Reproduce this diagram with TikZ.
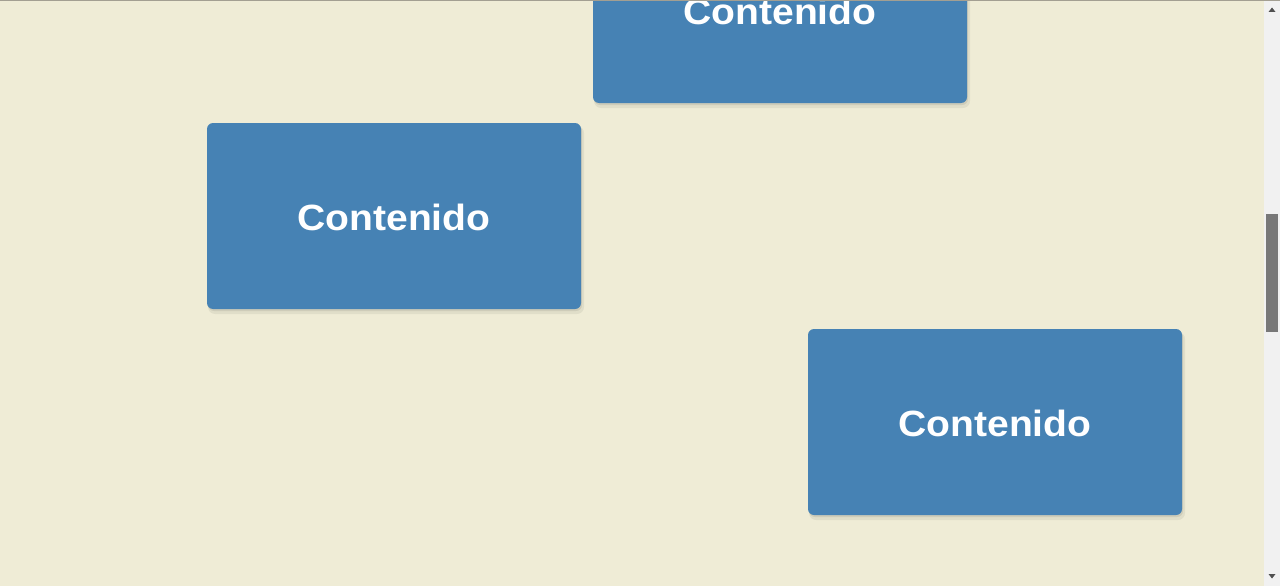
\documentclass[tikz,border=0pt]{standalone}
\usepackage{fontspec}
\setmainfont{Liberation Sans}
\definecolor{bg}{HTML}{EFECD6}
\definecolor{boxblue}{HTML}{4682B4}
\definecolor{track}{HTML}{F1F1F1}
\definecolor{thumb}{HTML}{787878}
\definecolor{topline}{HTML}{A39F92}
\definecolor{arrowc}{HTML}{505050}
\newcommand{\cardtext}[1]{\scalebox{1.07}[1]{\fontsize{36.5}{40}\selectfont\bfseries #1}}
\tikzset{
  card/.style={fill=boxblue, rounded corners=6pt, minimum width=374pt, minimum height=186pt, inner sep=0pt,
    text=white},
  shade1/.style={fill=black, opacity=0.06, rounded corners=7pt, minimum width=376pt, minimum height=188pt, inner sep=0pt},
  shade2/.style={fill=black, opacity=0.08, rounded corners=6pt, minimum width=374pt, minimum height=186pt, inner sep=0pt},
}
\begin{document}
\begin{tikzpicture}[x=1pt,y=-1pt]
\useasboundingbox (0,0) rectangle (1280,586);
\fill[bg] (0,0) rectangle (1264,586);
\begin{scope}
\clip (0,0) rectangle (1264,586);
% shadows
\foreach \cx/\cy in {780/10, 394/216, 995/422}{
  \node[shade1] at (\cx+2,\cy+4) {};
  \node[shade2] at (\cx+1,\cy+2) {};
}
\node[card] (c1) at (780,10) {};
\node[card] (c2) at (394,216) {};
\node[card] (c3) at (995,422) {};
\node[text=white, inner sep=0pt] (t1) at (780,11) {\cardtext{Contenido}};
\node[text=white, inner sep=0pt] (t2) at (394,217) {\cardtext{Contenido}};
\node[text=white, inner sep=0pt] (t3) at (995,423) {\cardtext{Contenido}};
\end{scope}
% top line
\fill[topline] (0,0) rectangle (1280,1);
% scrollbar
\fill[track] (1264,1) rectangle (1280,586);
\fill[thumb] (1266,214) rectangle (1278,332);
\fill[arrowc] (1268.5,12) -- (1275.5,12) -- (1272,7.5) -- cycle;
\fill[arrowc] (1268.5,574) -- (1275.5,574) -- (1272,578.5) -- cycle;
\end{tikzpicture}
\end{document}
